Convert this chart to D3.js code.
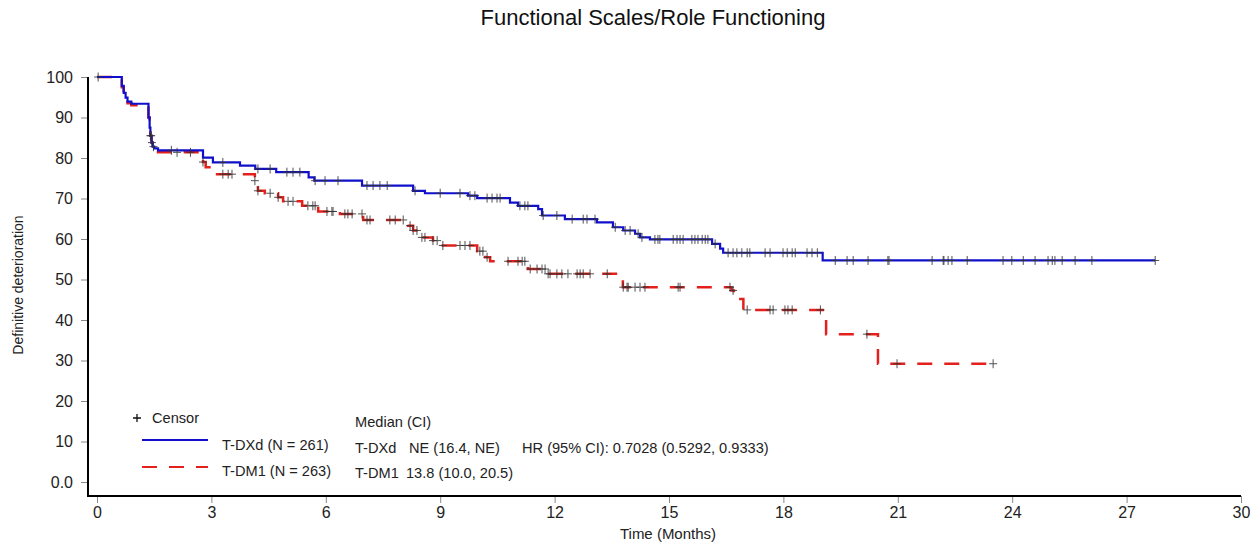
<!DOCTYPE html>
<html><head><meta charset="utf-8">
<script src="https://cdn.jsdelivr.net/npm/d3@7"></script>
<style>
body{margin:0;background:#fff;}
text{font-family:"Liberation Sans",Arial,sans-serif;fill:#222;}
</style></head>
<body><svg id="c" width="1254" height="549"></svg>
<script>
const title = "Functional Scales/Role Functioning";
const xTicks = [0,3,6,9,12,15,18,21,24,27,30];
const yTicks = [0,10,20,30,40,50,60,70,80,90,100];

const dxdTime = [0,0.65,0.70,0.75,0.80,0.90,1.35,1.38,1.40,1.43,1.46,1.50,1.60,2.78,3.04,3.75,4.15,4.70,5.55,5.70,6.95,8.29,8.60,9.73,9.97,10.83,11.04,11.57,11.67,12.27,13.11,13.53,13.80,14.11,14.24,14.50,16.13,16.34,16.42,19.03,27.75];
const dxdSurv = [100,97.8,96.1,94.9,93.9,93.4,90.0,87.5,85.5,83.8,82.8,82.4,81.9,80.1,78.9,78.1,77.3,76.5,75.2,74.4,73.2,71.9,71.3,70.7,70.1,69.0,68.2,67.4,65.8,64.9,64.1,62.9,62.1,61.3,60.4,59.9,58.8,57.6,56.6,54.7,54.7];
const dxdCensor = [1.40,1.44,1.48,1.95,3.30,4.22,4.54,4.98,5.14,5.32,5.72,5.98,6.32,7.08,7.24,7.42,7.61,8.34,9.00,9.52,9.78,9.91,10.23,10.36,10.49,10.57,11.09,11.22,11.30,11.70,12.06,12.46,12.75,12.85,13.06,13.59,13.85,13.98,14.19,14.29,14.63,14.71,14.76,15.11,15.21,15.29,15.37,15.60,15.68,15.76,15.87,15.95,16.02,16.21,16.55,16.68,16.78,16.91,17.05,17.12,17.52,17.65,17.99,18.10,18.23,18.31,18.62,18.75,18.89,19.36,19.67,19.83,20.22,20.74,20.77,21.90,22.19,22.21,22.32,22.42,22.82,23.76,23.99,24.29,24.60,24.94,25.05,25.12,25.31,25.65,26.09,27.75];

const dm1Time = [0,0.65,0.70,0.75,0.80,0.90,1.35,1.38,1.40,1.43,1.46,1.50,1.60,2.78,2.85,3.00,4.14,4.22,4.40,4.75,4.88,5.38,5.80,6.37,6.98,8.16,8.29,8.42,8.81,9.00,9.97,10.18,10.31,11.30,11.80,13.79,16.64,16.70,16.95,19.12,20.48,23.50];
const dm1Surv = [100,97.5,95.5,94.5,93.5,93.0,90.0,87.5,85.5,83.8,82.8,82.2,81.4,79.0,77.7,76.0,74.4,71.9,71.3,70.3,69.3,68.2,66.8,66.2,64.7,63.3,62.1,60.4,59.6,58.4,57.0,55.5,54.5,52.6,51.4,48.1,47.3,45.2,42.5,36.5,29.2,29.2];
const dm1Censor = [0.03,1.42,2.10,2.45,2.78,3.30,3.44,3.54,4.14,4.22,4.54,4.75,5.01,5.14,5.53,5.66,5.72,6.03,6.16,6.19,6.50,6.58,6.69,6.95,7.08,7.16,7.68,7.82,8.03,8.21,8.29,8.39,8.52,8.60,8.81,8.92,9.07,9.52,9.65,9.78,10.04,10.12,10.23,10.78,11.04,11.15,11.22,11.36,11.54,11.67,11.75,11.83,11.88,12.06,12.19,12.35,12.59,12.67,12.75,12.93,13.38,13.80,13.90,13.93,14.11,14.24,14.37,15.24,15.29,16.60,16.68,17.05,17.65,17.73,18.04,18.12,18.23,18.97,20.19,20.98,23.50];

const legendRows = [
  {label:"T-DXd (N = 261)", arm:"T-DXd", median:"NE (16.4, NE)", extra:"HR (95% CI): 0.7028 (0.5292, 0.9333)", color:"#1010cc", dash:null},
  {label:"T-DM1 (N = 263)", arm:"T-DM1", median:"13.8 (10.0, 20.5)", extra:"", color:"#e3201c", dash:"15,12"}
];

const svg = d3.select("#c");
const x = d3.scaleLinear().domain([0,30]).range([97,1241]);
const y = d3.scaleLinear().domain([0,100]).range([482,77]);

// title
svg.append("text").attr("x",653).attr("y",25).attr("text-anchor","middle")
  .style("font-size","22px").style("fill","#111").text(title);

// axes
const yAxis = d3.axisLeft(y).tickValues(yTicks).tickSize(7).tickPadding(8)
  .tickFormat(d => d===0 ? "0.0" : d);
const gy = svg.append("g").attr("transform","translate(88,0)").call(yAxis);
gy.select(".domain").remove();
gy.selectAll(".tick line").attr("stroke","#888");
gy.selectAll(".tick text").style("font-size","16px").style("fill","#222").style("font-family","Liberation Sans, Arial");

const xAxis = d3.axisBottom(x).tickValues(xTicks).tickSize(7).tickPadding(4);
const gx = svg.append("g").attr("transform","translate(0,496)").call(xAxis);
gx.select(".domain").remove();
gx.selectAll(".tick line").attr("stroke","#888");
gx.selectAll(".tick text").style("font-size","16px").style("fill","#222").style("font-family","Liberation Sans, Arial");

svg.append("line").attr("x1",88).attr("x2",88).attr("y1",y(100)).attr("y2",497).attr("stroke","#000").attr("stroke-width",2);
svg.append("line").attr("x1",87).attr("x2",x(30)).attr("y1",496).attr("y2",496).attr("stroke","#000").attr("stroke-width",2);

svg.append("text").attr("transform","translate(23,285) rotate(-90)").attr("text-anchor","middle")
  .style("font-size","14px").text("Definitive deterioration");
svg.append("text").attr("x",668).attr("y",539).attr("text-anchor","middle")
  .style("font-size","15px").text("Time (Months)");

// curves
function stepVal(times, surv, t){
  let v = surv[0];
  for(let i=0;i<times.length;i++){ if(times[i] <= t) v = surv[i]; else break; }
  return v;
}
const line = d3.line().x(d=>x(d[0])).y(d=>y(d[1])).curve(d3.curveStepAfter);
const series = [
  {t:dm1Time, s:dm1Surv, c:dm1Censor, row:legendRows[1], w:2.5},
  {t:dxdTime, s:dxdSurv, c:dxdCensor, row:legendRows[0], w:2.2}
];
series.forEach(sr=>{
  svg.append("path").datum(sr.t.map((t,i)=>[t,sr.s[i]]))
    .attr("d",line).attr("fill","none").attr("stroke",sr.row.color)
    .attr("stroke-width",sr.w).attr("stroke-dasharray",sr.row.dash);
});
series.forEach(sr=>{
  const g = svg.append("g");
  sr.c.forEach(t=>{
    const cx = x(t), cy = y(stepVal(sr.t, sr.s, t));
    g.append("path").attr("d",`M${cx-4},${cy}H${cx+4}M${cx},${cy-4.5}V${cy+4.5}`)
      .attr("stroke","#333").attr("stroke-width",1).attr("opacity",0.85);
  });
});

// legend
const fs = "14.6px";
svg.append("path").attr("d","M133,418H141M137,414V422").attr("stroke","#111").attr("stroke-width",1.3);
svg.append("text").attr("x",152).attr("y",423).style("font-size",fs).text("Censor");
svg.append("text").attr("x",355).attr("y",427).style("font-size",fs).text("Median (CI)");
const labY = [450, 476];
const medY = [453, 478];
legendRows.forEach((r,i)=>{
  const ly = 440 + i*27;
  svg.append("line").attr("x1",142).attr("x2",208).attr("y1",ly).attr("y2",ly)
    .attr("stroke",r.color).attr("stroke-width",2.2).attr("stroke-dasharray",r.dash);
  svg.append("text").attr("x",222).attr("y",labY[i]).style("font-size",fs).text(r.label);
  svg.append("text").attr("x",355).attr("y",medY[i]).style("font-size",fs).text(r.arm);
  svg.append("text").attr("x",i===0?409:406).attr("y",medY[i]).style("font-size",fs).text(r.median);
  if(r.extra) svg.append("text").attr("x",522).attr("y",medY[i]).style("font-size",fs).text(r.extra);
});
</script></body></html>
